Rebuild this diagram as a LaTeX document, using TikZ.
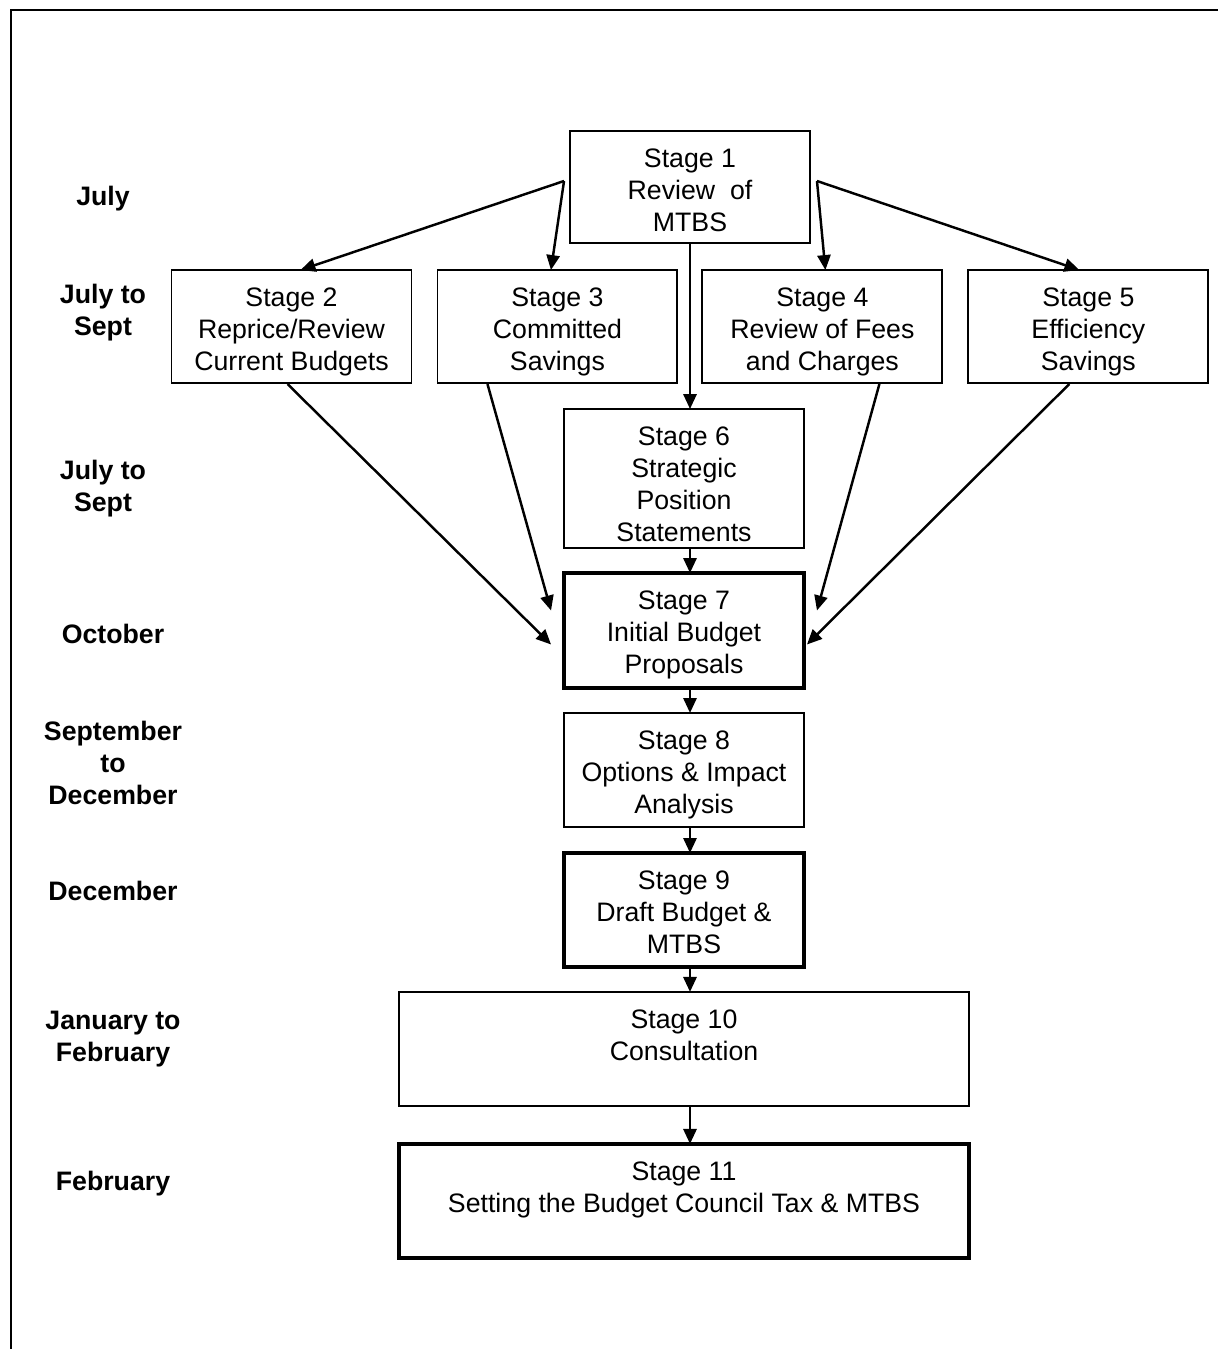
\documentclass[tikz,border=0pt]{standalone}
\usepackage{fontspec}
\setmainfont{Liberation Sans}
\usetikzlibrary{arrows.meta,calc}
\usetikzlibrary{shapes,positioning}

\begin{document}
\begin{tikzpicture}[x=0.02cm,y=-0.02cm,font=\fontsize{15.2}{18.2}\selectfont]
\useasboundingbox (0,0) rectangle (1218,1349);
\begin{scope}
\tikzstyle{stage}=[draw=black,rectangle,line width=1.1pt,minimum width=4.8cm,minimum height=2.26cm,inner sep=0pt,outer sep=0pt]
\tikzstyle{stagekey}=[stage,line width=2.3pt]
\tikzstyle{month}=[align=center,font=\fontsize{15.2}{18.2}\selectfont\bfseries]
\tikzstyle{flow}=[-{Triangle[length=8.5pt,width=7.5pt]},line width=1.4pt]
\tikzset{stagetext/.style={label={[anchor=north,yshift=-0.35cm,align=center,inner sep=0pt]north:#1}}}
\draw[line width=1.2pt] (11,1349) -- (11,10) -- (1218,10);
\node[stage,minimum height=2.24cm,stagetext={Stage 1\\Review\ \ of\\MTBS}] (s1) at (690,187) {};
\node[stage,stagetext={Stage 2\\Reprice/Review\\Current Budgets}] (s2) at (291.5,326.5) {};
\node[stage,stagetext={Stage 3\\Committed\\Savings}] (s3) [right=0.52cm of s2] {};
\node[stage,stagetext={Stage 4\\Review of Fees\\and Charges}] (s4) [right=0.5cm of s3] {};
\node[stage,stagetext={Stage 5\\Efficiency\\Savings}] (s5) [right=0.52cm of s4] {};
\node[stage,minimum height=2.78cm,stagetext={Stage 6\\Strategic\\Position\\Statements}] (s6) at (684,478.5) {};
\node[stagekey,minimum height=2.3cm,stagetext={Stage 7\\Initial Budget\\Proposals}] (s7) [below=0.5cm of s6] {};
\node[stage,minimum height=2.28cm,stagetext={Stage 8\\Options \& Impact\\Analysis}] (s8) [below=0.5cm of s7] {};
\node[stagekey,minimum height=2.28cm,stagetext={Stage 9\\Draft Budget \&\\MTBS}] (s9) [below=0.52cm of s8] {};
\node[stage,minimum width=11.4cm,minimum height=2.28cm,stagetext={Stage 10\\Consultation}] (s10) [below=0.5cm of s9] {};
\node[stagekey,minimum width=11.4cm,minimum height=2.28cm,stagetext={Stage 11\\Setting the Budget Council Tax \& MTBS}] (s11) [below=0.76cm of s10] {};
\node[month] (m1) at (103,198.5) {July};
\node[month] (m2) at (103,312.5) {July to\\Sept};
\node[month] (m3) at (103,488.5) {July to\\Sept};
\node[month] (m4) at (113,634) {October};
\node[month] (m5) at (113,763) {September\\to\\December};
\node[month] (m6) at (113,891) {December};
\node[month] (m7) at (113,1039) {January to\\February};
\node[month] (m8) at (113,1183.5) {February};
\coordinate (s1l) at ($(s1.west)+(-6,-6)$);
\coordinate (s1r) at ($(s1.east)+(7,-6)$);
\draw[flow] (s1l) -- ($(s2.north)+(9,0)$);
\draw[flow] (s1l) -- ($(s3.north)+(-6.5,0)$);
\draw[flow] (s1r) -- ($(s4.north)+(3,0)$);
\draw[flow] (s1r) -- ($(s5.north)+(-9,0)$);
\draw[flow] (s1.south) -- (s1 |- s6.north);
\draw[flow] ($(s2.south)+(-4,1)$) -- ($(s7.west)+(-13,14)$);
\draw[flow] ($(s3.south)+(-70,1)$) -- ($(s7.west)+(-13,-20)$);
\draw[flow] ($(s4.south)+(57,1)$) -- ($(s7.east)+(13,-20)$);
\draw[flow] ($(s5.south)+(-19,1)$) -- ($(s7.east)+(3,14)$);
\draw[flow] (s1 |- s6.south) -- (s1 |- s7.north);
\draw[flow] (s1 |- s7.south) -- (s1 |- s8.north);
\draw[flow] (s1 |- s8.south) -- (s1 |- s9.north);
\draw[flow] (s1 |- s9.south) -- (s1 |- s10.north);
\draw[flow] (s1 |- s10.south) -- (s1 |- s11.north);
\end{scope}
\end{tikzpicture}
\end{document}
